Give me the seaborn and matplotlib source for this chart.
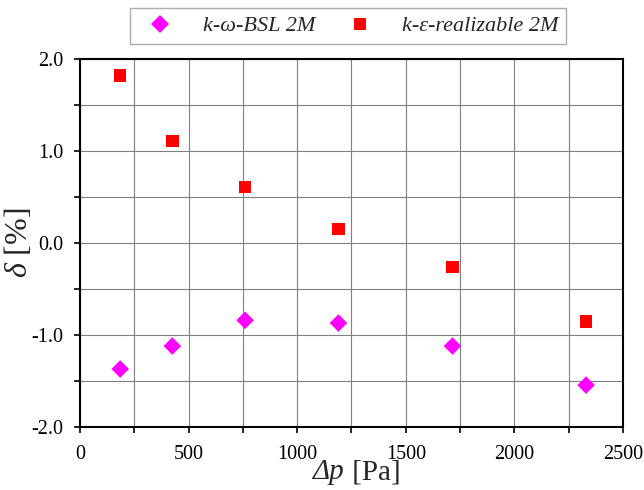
import seaborn as sns
import matplotlib.pyplot as plt
import pandas as pd
from matplotlib.ticker import MultipleLocator

# pressure drop [Pa] and deviation [%]
dp = [185, 425, 760, 1190, 1715, 2330]
delta_bsl = [-1.37, -1.12, -0.84, -0.87, -1.12, -1.545]
delta_rke = [1.82, 1.11, 0.61, 0.15, -0.26, -0.855]
labels = ['k-ω-BSL 2M', 'k-ε-realizable 2M']

df = pd.DataFrame({
    'dp': dp + dp,
    'delta': delta_bsl + delta_rke,
    'model': [labels[0]] * len(dp) + [labels[1]] * len(dp),
})

sns.set_style('ticks')
plt.rcParams['font.family'] = ['Liberation Serif', 'DejaVu Serif']
plt.rcParams['mathtext.fontset'] = 'custom'
plt.rcParams['mathtext.rm'] = 'Liberation Serif'
plt.rcParams['mathtext.it'] = 'Liberation Serif:italic'

fig = plt.figure(figsize=(6.44, 4.9), dpi=100)
ax = fig.add_axes([0.1242, 0.1286, 0.8432, 0.751])

sns.scatterplot(data=df, x='dp', y='delta', hue='model', style='model',
                palette={labels[0]: '#ff00ff', labels[1]: '#ff0000'},
                markers={labels[0]: 'D', labels[1]: 's'},
                s=80, linewidth=0, ax=ax, zorder=3)

ax.set_xlim(0, 2500)
ax.set_ylim(-2.0, 2.0)
ax.xaxis.set_major_locator(MultipleLocator(500))
ax.xaxis.set_minor_locator(MultipleLocator(250))
ax.yaxis.set_major_locator(MultipleLocator(1.0))
ax.yaxis.set_minor_locator(MultipleLocator(0.5))
ax.set_yticklabels([f'{v:.1f}' for v in ax.get_yticks()])
ax.grid(True, which='both', color='#808080', linewidth=0.8)
ax.set_axisbelow(True)
ax.tick_params(which='both', direction='out', length=4, width=1.2,
               labelsize=14.5, colors='black')
ax.tick_params(axis='y', pad=8)
ax.tick_params(axis='x', pad=9)
for sp in ax.spines.values():
    sp.set_visible(True)
    sp.set_color('black')
    sp.set_linewidth(1.5)

# x label: italic "Δp" followed by upright "[Pa]"
ax.set_xlabel('')
fig.text(0.535, 0.022, 'Δp', ha='right', va='baseline', fontsize=21, style='italic')
fig.text(0.535, 0.022, ' [Pa]', ha='left', va='baseline', fontsize=21)
ax.set_ylabel(r'$\delta$ [%]', fontsize=23, labelpad=-2)

ax.legend(loc='lower center', bbox_to_anchor=(0.494, 1.04), ncol=2,
          frameon=True, fancybox=False, edgecolor='#999999',
          prop={'family': 'Liberation Serif', 'style': 'italic', 'size': 16},
          handletextpad=0.9, columnspacing=1.0, borderpad=0.35,
          markerscale=1.0, borderaxespad=0)

fig.savefig('out.png', dpi=100)
